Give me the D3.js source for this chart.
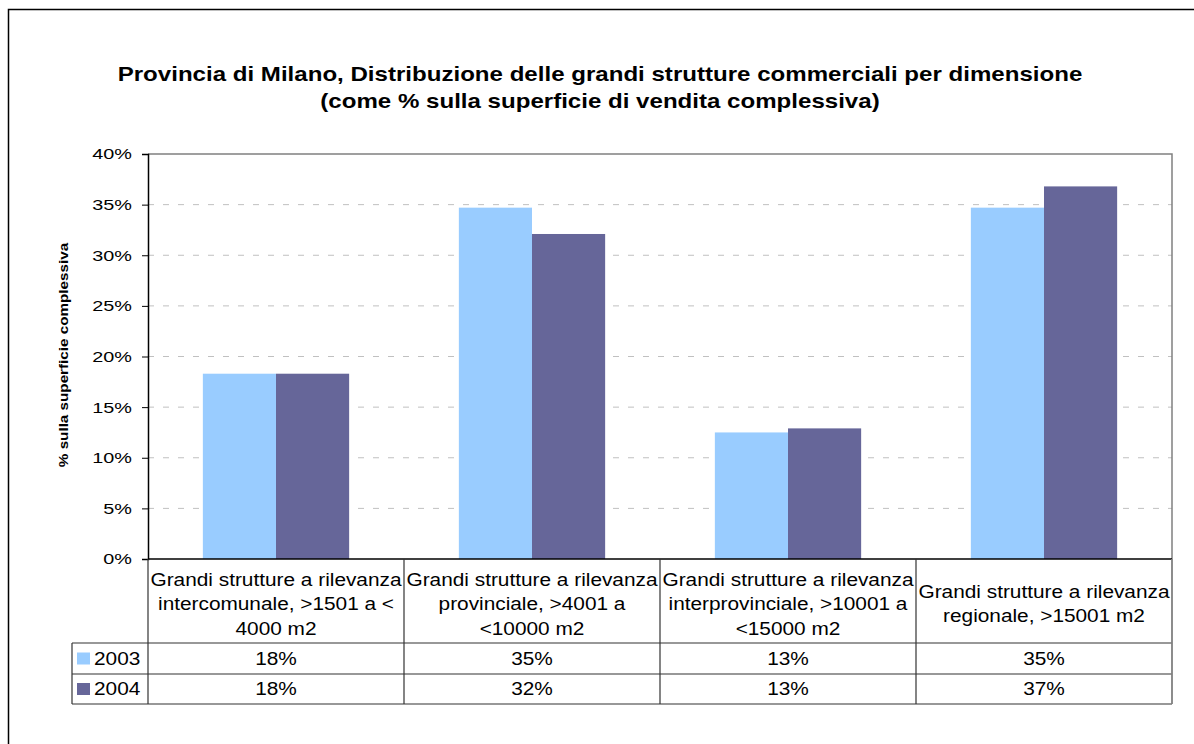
<!DOCTYPE html>
<html>
<head>
<meta charset="utf-8">
<script src="https://cdn.jsdelivr.net/npm/d3@7"></script>
<style>
  body { margin: 0; background: #fff; }
  svg { display: block; font-family: "Liberation Sans", Arial, sans-serif; }
</style>
</head>
<body>
<div id="chart"></div>
<script>
// Data
const categories = [
    ["Grandi strutture a rilevanza", "intercomunale, >1501 a <", "4000 m2"],
    ["Grandi strutture a rilevanza", "provinciale, >4001 a", "<10000 m2"],
    ["Grandi strutture a rilevanza", "interprovinciale, >10001 a", "<15000 m2"],
    ["Grandi strutture a rilevanza", "regionale, >15001 m2"]
];
const seriesNames = ["2003", "2004"];
const values2003 = [18.3, 34.7, 12.5, 34.7];
const values2004 = [18.3, 32.1, 12.9, 36.8];
const yTicks = [0, 5, 10, 15, 20, 25, 30, 35, 40];
const colors = ["#99CCFF", "#666699"];

const width = 1194, height = 744;
const plot = {left: 148, right: 1172, top: 154, bottom: 559};
const rowH = [84, 31, 30];
const tableLeft = 72;

const svg = d3.select("#chart").append("svg")
    .attr("width", width)
    .attr("height", height);

// text helper: the source font renders wider than Arial
function label(x, y, str, size, opts = {}) {
    const sx = opts.stretch || 1.2;
    const t = svg.append("text")
        .attr("transform", `translate(${x},${y})` + (opts.rotate ? ` rotate(${opts.rotate})` : "") + ` scale(${sx},1)`)
        .attr("text-anchor", opts.anchor || "middle")
        .attr("dy", opts.dy || "0.35em")
        .attr("font-size", size)
        .text(str);
    if (opts.bold) t.attr("font-weight", "bold");
    return t;
}

// Outer chart border
svg.append("rect")
    .attr("x", 8.5).attr("y", 9.5)
    .attr("width", 1200).attr("height", 800)
    .attr("fill", "none")
    .attr("stroke", "#000")
    .attr("stroke-width", 1.5);

// Title
label(600, 74, "Provincia di Milano, Distribuzione delle grandi strutture commerciali per dimensione", 19.5, {bold: true, stretch: 1.235});
label(600, 101, "(come % sulla superficie di vendita complessiva)", 19.5, {bold: true, stretch: 1.235});

// Scales
const x0 = d3.scaleBand()
    .domain(d3.range(categories.length))
    .range([plot.left, plot.right]);
const barW = x0.bandwidth() / 3.5;
const x1 = d3.scaleBand()
    .domain(seriesNames)
    .range([0, barW * 2]);
const y = d3.scaleLinear().domain([0, 40]).range([plot.bottom, plot.top]);

// Gridlines
svg.append("g")
    .selectAll("line")
    .data(yTicks.filter(d => d > 0 && d < 40))
    .join("line")
    .attr("x1", plot.left).attr("x2", plot.right)
    .attr("y1", d => y(d)).attr("y2", d => y(d))
    .attr("stroke", "#c0c0c0")
    .attr("stroke-dasharray", "6,9");

// Bars
const seriesData = [values2003, values2004];
const groups = svg.append("g")
    .selectAll("g")
    .data(seriesNames)
    .join("g")
    .attr("fill", (d, i) => colors[i]);
groups.selectAll("rect")
    .data((s, i) => seriesData[i].map((v, j) => ({s, v, j})))
    .join("rect")
    .attr("x", d => x0(d.j) + barW * 0.75 + x1(d.s))
    .attr("y", d => y(d.v))
    .attr("width", x1.bandwidth())
    .attr("height", d => y(0) - y(d.v));

// Plot border (top, right)
svg.append("path")
    .attr("d", `M${plot.left},${plot.top}H${plot.right}V${plot.bottom}`)
    .attr("fill", "none")
    .attr("stroke", "#808080")
    .attr("stroke-width", 1.5);

// Y axis
const yAxis = svg.append("g")
    .attr("transform", `translate(${plot.left},0)`)
    .call(d3.axisLeft(y).tickValues(yTicks).tickFormat("").tickSize(6));
yAxis.select(".domain").attr("stroke", "#000").attr("stroke-width", 1.5);
yAxis.selectAll(".tick line").attr("stroke", "#000");
yTicks.forEach(t => label(plot.left - 16, y(t), t + "%", 15.5, {anchor: "end", stretch: 1.28}));

// Y axis title
label(64, 355, "% sulla superficie complessiva", 12, {bold: true, rotate: -90, stretch: 1.27});

// Data table
const yHeadBottom = plot.bottom + rowH[0];
const yRow1 = yHeadBottom + rowH[1];
const yRow2 = yRow1 + rowH[2];
const table = svg.append("g")
    .attr("stroke", "#333")
    .attr("stroke-width", 1.2);
table.append("line").attr("x1", plot.left).attr("x2", plot.right).attr("y1", plot.bottom).attr("y2", plot.bottom).attr("stroke", "#000").attr("stroke-width", 1.5);
[yHeadBottom, yRow1, yRow2].forEach(yy => {
    table.append("line").attr("x1", tableLeft).attr("x2", plot.right).attr("y1", yy).attr("y2", yy);
});
table.append("line").attr("x1", tableLeft).attr("x2", tableLeft).attr("y1", yHeadBottom).attr("y2", yRow2);
d3.range(categories.length + 1).forEach(i => {
    const xx = i < categories.length ? x0(i) : plot.right;
    table.append("line").attr("x1", xx).attr("x2", xx).attr("y1", plot.bottom).attr("y2", yRow2)
        .attr("stroke", i === categories.length ? "#808080" : "#333")
        .attr("stroke-width", i === categories.length ? 1.8 : 1.2);
});

// Category header text
categories.forEach((lines, i) => {
    const cx = x0(i) + x0.bandwidth() / 2;
    const lh = 24.5;
    const midY = plot.bottom + rowH[0] / 2 + 3;
    const startY = midY - (lines.length - 1) * lh / 2;
    lines.forEach((t, k) => label(cx, startY + k * lh, t, 17.5, {stretch: 1.19}));
});

// Series rows with legend keys
const rowYs = [yHeadBottom + rowH[1] / 2, yRow1 + rowH[2] / 2];
seriesData.forEach((vals, s) => {
    svg.append("rect")
        .attr("x", tableLeft + 5).attr("y", rowYs[s] - 6)
        .attr("width", 13).attr("height", 12)
        .attr("fill", colors[s]);
    label(tableLeft + 22, rowYs[s], seriesNames[s], 17.5, {anchor: "start", stretch: 1.19});
    vals.forEach((v, i) => label(x0(i) + x0.bandwidth() / 2, rowYs[s], Math.round(v) + "%", 17.5, {stretch: 1.19}));
});
</script>
</body>
</html>
